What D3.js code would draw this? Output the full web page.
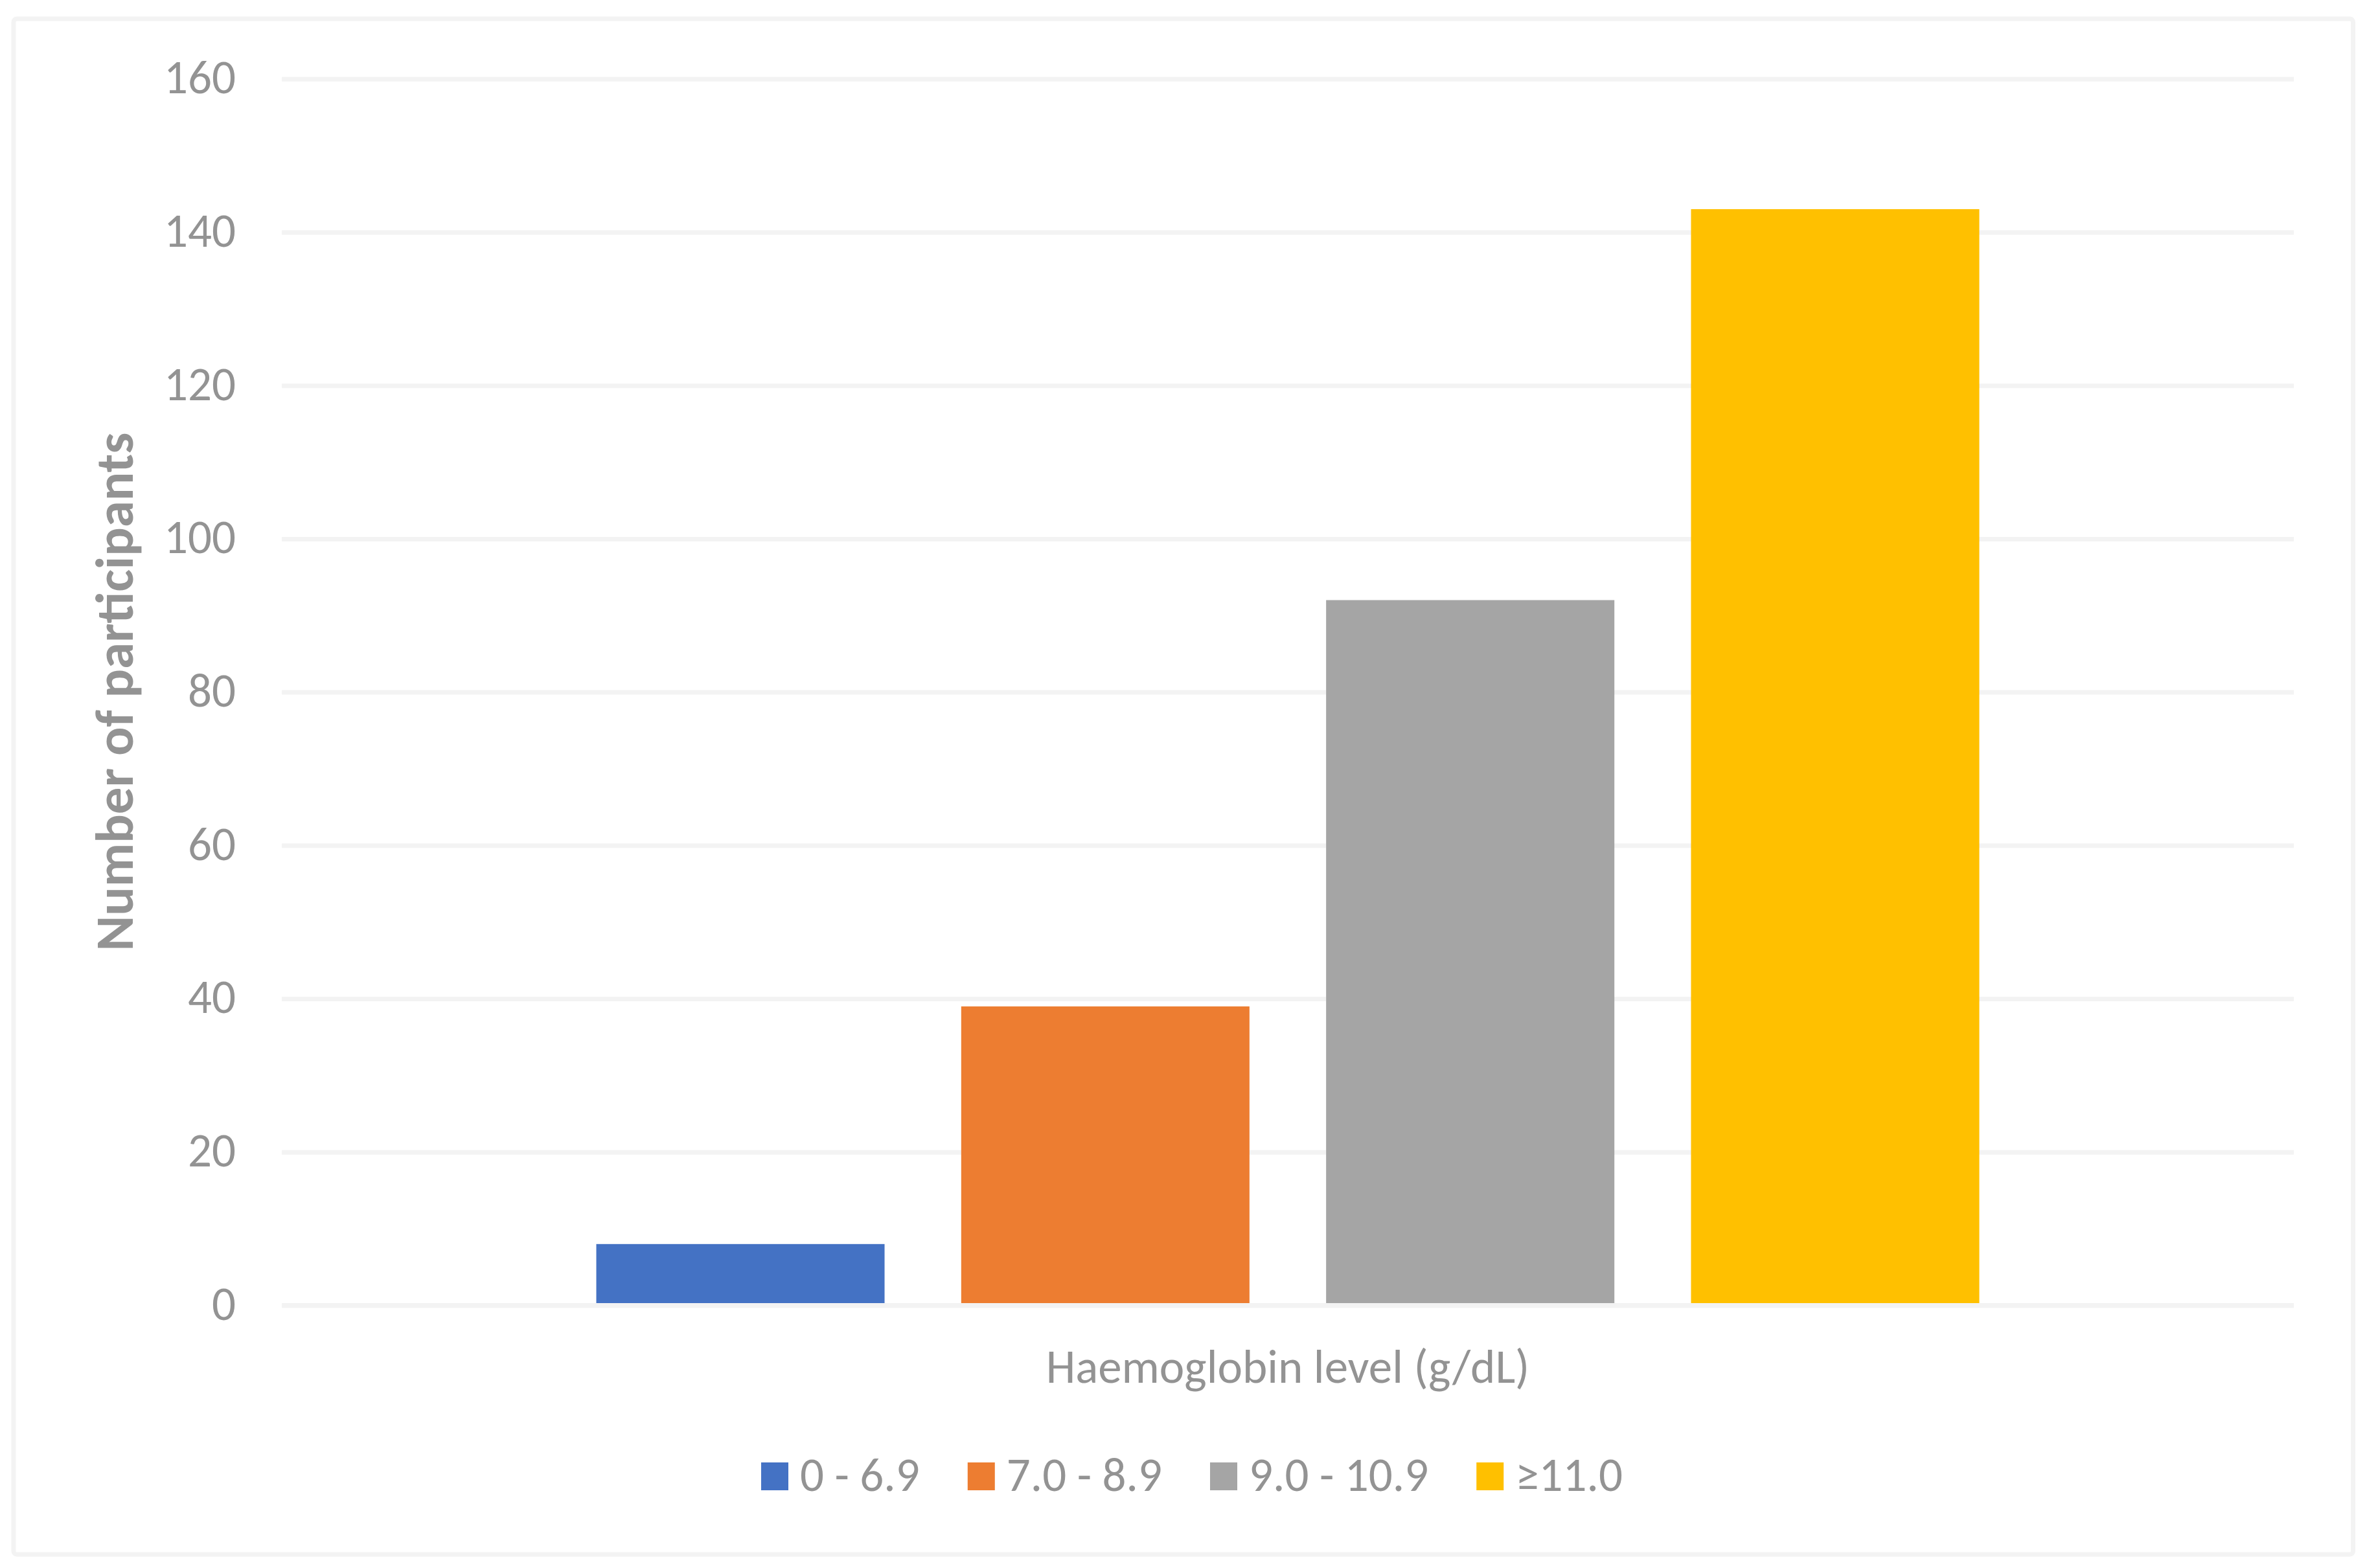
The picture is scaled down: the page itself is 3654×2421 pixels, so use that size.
<!DOCTYPE html>
<html>
<head>
<meta charset="utf-8">
<script src="https://cdn.jsdelivr.net/npm/d3@7"></script>
<style>
  html, body { margin: 0; padding: 0; background: #ffffff; }
  svg { display: block; }
  text { font-family: Carlito, Lato, "Open Sans", sans-serif; }
</style>
</head>
<body>
<script>
// ---- data ----
const categories = ["Haemoglobin level (g/dL)"];
const seriesNames = ["0 - 6.9", "7.0 - 8.9", "9.0 - 10.9", "≥11.0"];
const seriesValues = [8, 39, 92, 143];
const seriesColors = ["#4472C4", "#ED7D31", "#A5A5A5", "#FFC000"];
const yTickValues = [0, 20, 40, 60, 80, 100, 120, 140, 160];
const yTitle = "Number of participants";

// ---- layout ----
const W = 3654, H = 2421;
const plotLeft = 435, plotRight = 3541, plotTop = 121.7, plotBottom = 2015.5;
const textColor = "#939393";
const gridColor = "#f3f3f3";
const fs = 73;

const svg = d3.select("body").append("svg").attr("width", W).attr("height", H);
svg.append("rect").attr("width", W).attr("height", H).attr("fill", "#ffffff");

// outer chart border
svg.append("rect")
  .attr("x", 21).attr("y", 29)
  .attr("width", 3632.5 - 21).attr("height", 2400 - 29)
  .attr("rx", 5)
  .attr("fill", "none").attr("stroke", gridColor).attr("stroke-width", 7);

const y = d3.scaleLinear().domain([0, 160]).range([plotBottom, plotTop]);
const x0 = d3.scaleBand().domain(categories).range([plotLeft, plotRight])
  .paddingInner(0).paddingOuter(0.2274);
const x1 = d3.scaleBand().domain(seriesNames).range([0, x0.bandwidth()]).paddingInner(0.21);

// y axis with gridlines
const yAxis = d3.axisLeft(y).tickValues(yTickValues)
  .tickSize(-(plotRight - plotLeft)).tickPadding(71).tickFormat(d3.format("d"));
const gy = svg.append("g").attr("transform", `translate(${plotLeft},0)`).call(yAxis);
gy.select(".domain").remove();
gy.selectAll(".tick line").attr("stroke", gridColor).attr("stroke-width", 7);
gy.selectAll(".tick text").attr("fill", textColor).attr("font-size", fs).attr("dy", "0.3em");

// bars
const data = seriesNames.map((s, i) => ({ cat: categories[0], series: s, value: seriesValues[i], color: seriesColors[i] }));
svg.append("g").selectAll("rect").data(data).join("rect")
  .attr("x", d => x0(d.cat) + x1(d.series))
  .attr("width", x1.bandwidth())
  .attr("y", d => y(d.value))
  .attr("height", d => y(0) - y(d.value))
  .attr("fill", d => d.color);

// horizontal axis line on top
svg.append("line")
  .attr("x1", plotLeft).attr("x2", plotRight)
  .attr("y1", y(0)).attr("y2", y(0))
  .attr("stroke", gridColor).attr("stroke-width", 7);

// x axis title
svg.append("text")
  .attr("x", (plotLeft + plotRight) / 2).attr("y", 2135)
  .attr("text-anchor", "middle").attr("fill", textColor).attr("font-size", fs)
  .text(categories[0]);

// y axis title
svg.append("text")
  .attr("transform", `translate(205,1068) rotate(-90)`)
  .attr("text-anchor", "middle").attr("fill", textColor)
  .attr("font-size", 83).attr("font-weight", "bold")
  .text(yTitle);

// legend
const legend = svg.append("g");
const sq = 42, sqGap = 18, itemGap = 74, legendBase = 2302, legendCenter = 1840;
let cx = 0;
seriesNames.forEach((s, i) => {
  const g = legend.append("g");
  g.append("rect").attr("x", 0).attr("y", legendBase - 44).attr("width", sq).attr("height", 43)
    .attr("fill", seriesColors[i]);
  const t = g.append("text").attr("x", sq + sqGap).attr("y", legendBase)
    .attr("fill", textColor).attr("font-size", fs).text(s);
  const tw = t.node().getComputedTextLength();
  g.attr("transform", `translate(${cx},0)`);
  cx += sq + sqGap + tw + itemGap;
});
const totalW = cx - itemGap;
legend.attr("transform", `translate(${legendCenter - totalW / 2},0)`);
</script>
</body>
</html>
